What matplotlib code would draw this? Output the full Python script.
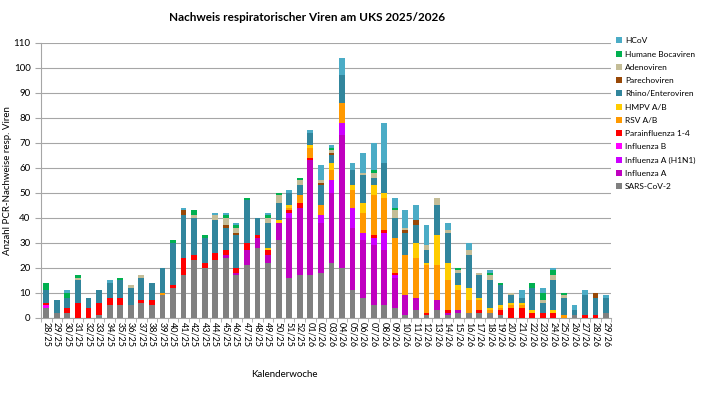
import matplotlib
matplotlib.use("Agg")
import matplotlib.pyplot as plt
import numpy as np

plt.rcParams['font.family'] = ['Lato', 'DejaVu Sans']

weeks = [f"{w:02d}/25" for w in range(28, 53)] + [f"{w:02d}/26" for w in range(1, 30)]

sars = [4, 2, 2, 0, 0, 1, 5, 5, 5, 6, 5, 9, 12, 17, 23, 20, 23, 24, 17, 21, 28, 22, 31, 16, 17,
        17, 18, 22, 20, 11, 8, 5, 5, 4, 1, 3, 1, 3, 1, 2, 2, 2, 2, 1, 0, 0, 0, 0, 0, 0, 1, 0, 0, 2]
infl_a = [0, 0, 0, 0, 0, 0, 0, 0, 0, 0, 0, 0, 0, 0, 0, 0, 0, 1, 1, 6, 4, 3, 7, 24, 27,
          46, 20, 28, 53, 25, 23, 24, 22, 12, 8, 5, 0, 4, 1, 1, 0, 0, 0, 0, 0, 0, 0, 0, 0, 0, 0, 0, 0, 0]
infl_h1n1 = [0, 0, 0, 0, 0, 0, 0, 0, 0, 0, 0, 0, 0, 0, 0, 0, 0, 0, 0, 0, 0, 0, 0, 2, 0,
             0, 3, 5, 5, 8, 3, 3, 7, 1, 0, 0, 0, 0, 0, 0, 0, 0, 0, 0, 0, 0, 0, 0, 0, 0, 0, 0, 0, 0]
infl_b = [1, 0, 0, 0, 0, 0, 0, 0, 0, 0, 0, 0, 0, 0, 0, 0, 0, 0, 0, 0, 0, 0, 0, 0, 0,
          0, 0, 0, 0, 0, 0, 0, 0, 0, 0, 0, 0, 0, 0, 0, 0, 0, 0, 0, 0, 0, 0, 0, 0, 0, 0, 0, 0, 0]
para = [1, 0, 2, 6, 4, 5, 3, 3, 0, 1, 2, 0, 1, 7, 2, 2, 3, 2, 2, 3, 1, 2, 0, 1, 2,
        1, 0, 0, 0, 0, 0, 1, 1, 1, 0, 0, 1, 0, 1, 0, 0, 1, 0, 2, 4, 4, 2, 2, 2, 0, 0, 1, 1, 0]
rsv = [0, 0, 0, 0, 0, 0, 0, 0, 0, 0, 0, 1, 0, 0, 0, 0, 0, 0, 0, 0, 0, 0, 0, 1, 3,
       4, 4, 4, 8, 7, 8, 16, 13, 14, 16, 16, 19, 14, 12, 8, 5, 4, 1, 1, 1, 1, 0, 0, 0, 1, 0, 0, 0, 0]
hmpv = [0, 0, 0, 0, 0, 0, 0, 0, 0, 0, 0, 0, 0, 0, 0, 0, 0, 0, 0, 0, 0, 1, 1, 1, 0,
        1, 0, 3, 0, 2, 4, 4, 2, 0, 0, 6, 1, 12, 7, 2, 5, 1, 1, 1, 1, 1, 1, 0, 1, 0, 0, 0, 0, 0]
rhino = [5, 5, 4, 9, 4, 5, 6, 7, 7, 9, 7, 10, 17, 17, 15, 10, 13, 9, 13, 17, 7, 10, 7, 5, 4,
         5, 8, 3, 11, 6, 11, 3, 12, 8, 9, 7, 5, 12, 12, 5, 13, 9, 11, 8, 3, 2, 9, 4, 12, 7, 2, 8, 7, 6]
parecho = [0, 0, 0, 0, 0, 0, 0, 0, 0, 0, 0, 0, 0, 2, 0, 0, 0, 1, 1, 0, 0, 0, 0, 0, 0,
           0, 1, 1, 0, 0, 0, 0, 0, 0, 1, 2, 0, 0, 0, 0, 0, 0, 0, 0, 0, 0, 0, 0, 0, 0, 0, 0, 2, 0]
adeno = [0, 0, 0, 1, 0, 0, 0, 0, 1, 1, 0, 0, 0, 0, 1, 0, 2, 3, 2, 0, 0, 2, 3, 0, 2,
         0, 1, 1, 0, 0, 1, 2, 0, 3, 1, 0, 2, 3, 1, 1, 2, 1, 2, 0, 1, 0, 0, 1, 2, 1, 0, 0, 0, 0]
boca = [3, 0, 2, 1, 0, 0, 0, 1, 0, 0, 0, 0, 1, 0, 2, 1, 0, 1, 1, 1, 0, 1, 1, 0, 1,
        0, 0, 1, 0, 0, 0, 1, 0, 1, 0, 0, 0, 0, 0, 1, 0, 0, 1, 1, 0, 0, 2, 3, 2, 1, 0, 0, 0, 0]
hcov = [0, 0, 1, 0, 0, 0, 1, 0, 0, 0, 0, 0, 0, 1, 0, 0, 1, 1, 1, 0, 0, 1, 0, 1, 0,
        1, 6, 1, 7, 3, 8, 11, 16, 4, 7, 6, 8, 0, 3, 0, 3, 0, 1, 0, 0, 3, 0, 2, 1, 0, 2, 2, 0, 1]

series = [
    ("SARS-CoV-2", sars, "#808080"),
    ("Influenza A", infl_a, "#BF00BF"),
    ("Influenza A (H1N1)", infl_h1n1, "#CC00FF"),
    ("Influenza B", infl_b, "#FF00FF"),
    ("Parainfluenza 1-4", para, "#FF0000"),
    ("RSV A/B", rsv, "#FF9900"),
    ("HMPV A/B", hmpv, "#FFCC00"),
    ("Rhino/Enteroviren", rhino, "#31859C"),
    ("Parechoviren", parecho, "#984807"),
    ("Adenoviren", adeno, "#C4BD97"),
    ("Humane Bocaviren", boca, "#00B050"),
    ("HCoV", hcov, "#4BACC6"),
]

fig = plt.figure(figsize=(7.06, 3.97), dpi=100)
ax = fig.add_axes([0.058, 0.199, 0.808, 0.693])

x = np.arange(len(weeks))
bottom = np.zeros(len(weeks))
handles = []
for name, vals, col in series:
    b = ax.bar(x, vals, bottom=bottom, width=0.55, color=col, label=name, zorder=3)
    handles.append(b)
    bottom += np.array(vals)

ax.set_ylim(0, 110)
ax.set_xlim(-0.5, len(weeks) - 0.5)
ax.set_yticks(range(0, 111, 10))
ax.yaxis.grid(True, color="#A6A6A6", linewidth=0.8, zorder=0)
ax.set_xticks(x)
ax.set_xticklabels(weeks, rotation=-90, fontsize=6.5)
ax.set_xticks(np.arange(-0.5, len(weeks), 1), minor=True)
ax.tick_params(axis="x", which="major", length=0, pad=3)
ax.tick_params(axis="x", which="minor", length=3, color="#A6A6A6")
ax.tick_params(axis="y", length=4, color="#A6A6A6", labelsize=7)
for s in ["top", "right"]:
    ax.spines[s].set_visible(False)
for s in ["left", "bottom"]:
    ax.spines[s].set_color("#A6A6A6")

ax.set_ylabel("Anzahl PCR-Nachweise resp. Viren", fontsize=7)
ax.yaxis.set_label_coords(-0.05, 0.5)
ax.set_xlabel("Kalenderwoche", fontsize=7)
ax.xaxis.set_label_coords(0.426, -0.19)
fig.text(0.435, 0.955, "Nachweis respiratorischer Viren am UKS 2025/2026",
         ha="center", va="center", fontsize=8.5, fontweight="bold")

fig.legend(handles[::-1], [s[0] for s in series][::-1], loc="upper left",
           bbox_to_anchor=(0.862, 0.925), frameon=False, fontsize=6,
           handlelength=0.7, handleheight=0.7, handletextpad=0.4, labelspacing=0.75)

fig.savefig("out.png", dpi=100)
